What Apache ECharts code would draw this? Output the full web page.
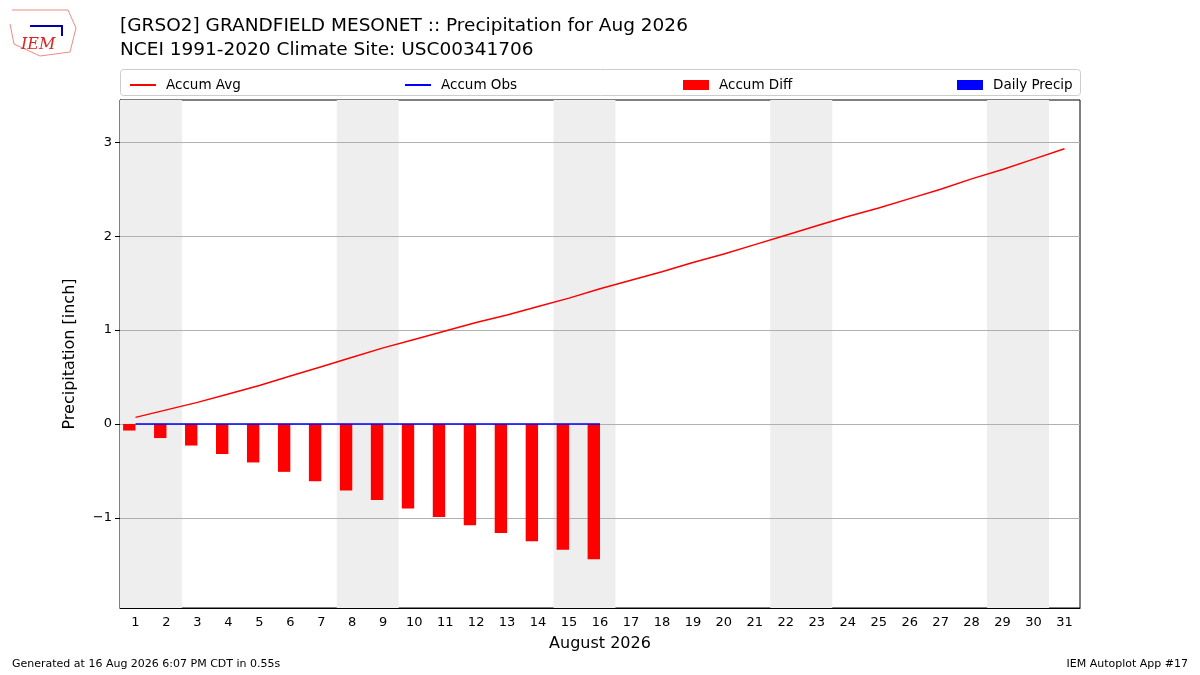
<!DOCTYPE html>
<html><head><meta charset="utf-8">
<script src="https://cdn.jsdelivr.net/npm/echarts@6/dist/echarts.min.js"></script>
<style>html,body{margin:0;background:#fff}#c{width:1200px;height:675px}</style>
</head><body><div id="c"></div>
<script>
var days = [];
for (var d = 1; d <= 31; d++) days.push(String(d));

var accumAvg = [0.07, 0.15, 0.23, 0.32, 0.41, 0.51, 0.61, 0.71, 0.81, 0.90,
  0.99, 1.08, 1.16, 1.25, 1.34, 1.44, 1.53, 1.62, 1.72, 1.81,
  1.91, 2.01, 2.11, 2.21, 2.30, 2.40, 2.50, 2.61, 2.71, 2.82, 2.93];
var accumObs = [0, 0, 0, 0, 0, 0, 0, 0, 0, 0, 0, 0, 0, 0, 0, 0];
var accumDiff = [-0.07, -0.15, -0.23, -0.32, -0.41, -0.51, -0.61, -0.71, -0.81, -0.90,
  -0.99, -1.08, -1.16, -1.25, -1.34, -1.44];
var dailyPrecip = [0, 0, 0, 0, 0, 0, 0, 0, 0, 0, 0, 0, 0, 0, 0, 0];
var weekends = [[1, 2], [8, 9], [15, 16], [22, 23], [29, 30]];
var yTicks = [-1, 0, 1, 2, 3];

var font = 'DejaVu Sans';
var chart = echarts.init(document.getElementById('c'));
var lineIcon = 'path://M0,0 L26,0 L26,2 L0,2 Z';

function legendAt(left, name, icon, h) {
  return {
    left: left, top: 73, data: [{name: name, icon: icon}],
    itemWidth: 26, itemHeight: h, itemGap: 0,
    textStyle: {fontFamily: font, fontSize: 13.5, color: '#000', padding: [0, 0, 0, 5]}
  };
}

chart.setOption({
  animation: false,
  textStyle: {fontFamily: font},
  title: [{
    text: '[GRSO2] GRANDFIELD MESONET :: Precipitation for Aug 2026\nNCEI 1991-2020 Climate Site: USC00341706',
    left: 115, top: 9,
    textStyle: {fontFamily: font, fontSize: 18.5, fontWeight: 'normal', color: '#000', lineHeight: 24}
  }, {
    text: 'IEM', left: 16, top: 32,
    textStyle: {fontFamily: 'DejaVu Serif', fontStyle: 'italic', fontSize: 16, fontWeight: 'normal', color: '#d22'}
  }, {
    text: 'Generated at 16 Aug 2026 6:07 PM CDT in 0.55s', left: 7, top: 654,
    textStyle: {fontFamily: font, fontSize: 11, fontWeight: 'normal', color: '#000'}
  }, {
    text: 'IEM Autoplot App #17', right: 7, top: 654,
    textStyle: {fontFamily: font, fontSize: 11, fontWeight: 'normal', color: '#000'}
  }],
  graphic: [{
    type: 'rect', shape: {x: 120.5, y: 69.5, width: 960, height: 26, r: 3},
    style: {fill: 'none', stroke: '#ccc', lineWidth: 1}
  }, {
    type: 'polyline', shape: {points: [[12, 10], [68, 10], [76, 28], [70, 52], [40, 56], [14, 44], [10, 24]]},
    style: {fill: 'none', stroke: '#e88', lineWidth: 1}
  }, {
    type: 'polyline', shape: {points: [[30, 26], [62, 26], [62, 36]]},
    style: {fill: 'none', stroke: '#00a', lineWidth: 2}
  }],
  legend: [
    legendAt(125, 'Accum Avg', lineIcon, 2),
    legendAt(400, 'Accum Obs', lineIcon, 2),
    legendAt(678, 'Accum Diff', 'rect', 10),
    legendAt(952, 'Daily Precip', 'rect', 10)
  ],
  grid: {left: 120, right: 120, top: 100, bottom: 67, show: true, borderColor: '#000', borderWidth: 1},
  xAxis: [{
    type: 'category', data: days, boundaryGap: true,
    name: 'August 2026', nameLocation: 'middle', nameGap: 28,
    nameTextStyle: {fontSize: 16, color: '#000'},
    axisLine: {onZero: false, lineStyle: {color: '#000'}},
    axisTick: {alignWithLabel: true, lineStyle: {color: '#000'}},
    axisLabel: {interval: 0, color: '#000', fontSize: 13}
  }, {
    type: 'value', min: 0.5, max: 31.5, show: false
  }],
  yAxis: {
    type: 'value', min: -1.96, max: 3.45,
    name: 'Precipitation [inch]', nameLocation: 'middle', nameGap: 42,
    nameTextStyle: {fontSize: 16, color: '#000'},
    axisLine: {show: true, onZero: false, lineStyle: {color: '#000'}},
    axisTick: {show: true, customValues: yTicks, lineStyle: {color: '#000'}},
    axisLabel: {
      color: '#000', fontSize: 13, customValues: yTicks,
      formatter: function (v) { return v < 0 ? '\u2212' + (-v) : String(v); }
    },
    splitLine: {show: false}
  },
  series: [{
    type: 'line', xAxisIndex: 1, data: [], silent: true, z: 0, zlevel: 0,
    markArea: {
      silent: true, itemStyle: {color: '#eeeeee'},
      data: weekends.map(function (w) { return [{xAxis: w[0] - 0.5}, {xAxis: w[1] + 0.5}]; })
    },
    markLine: {
      silent: true, symbol: 'none', label: {show: false},
      lineStyle: {color: '#b0b0b0', type: 'solid', width: 1},
      data: yTicks.map(function (t) { return {yAxis: t}; })
    }
  }, {
    name: 'Accum Diff', type: 'bar', data: accumDiff, itemStyle: {color: '#ff0000'},
    barWidth: '40%', barGap: '0%', z: 5
  }, {
    name: 'Daily Precip', type: 'bar', data: dailyPrecip, itemStyle: {color: '#0000ff'},
    barWidth: '40%', z: 5
  }, {
    name: 'Accum Avg', type: 'line', data: accumAvg, symbol: 'none',
    lineStyle: {color: '#ff0000', width: 1.5}, itemStyle: {color: '#ff0000'}, z: 6
  }, {
    name: 'Accum Obs', type: 'line', data: accumObs, symbol: 'none',
    lineStyle: {color: '#0000ff', width: 1.5}, itemStyle: {color: '#0000ff'}, z: 6
  }]
});
</script></body></html>
